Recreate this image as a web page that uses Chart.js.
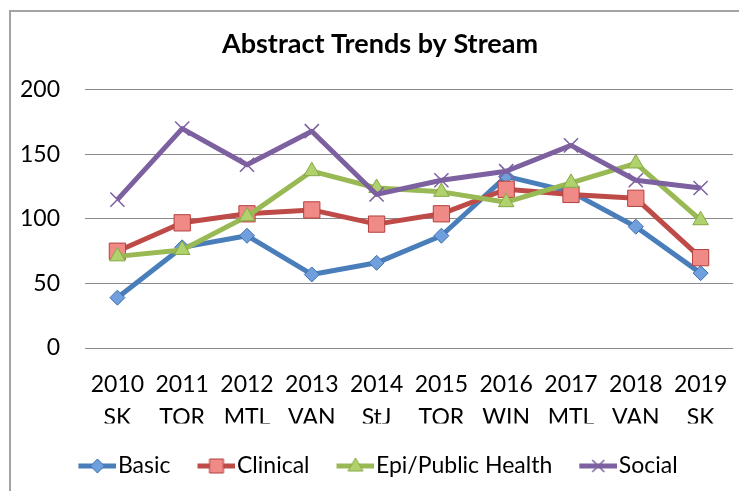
<!DOCTYPE html>
<html><head><meta charset="utf-8">
<script src="https://cdn.jsdelivr.net/npm/chart.js@4.4.0/dist/chart.umd.min.js"></script>
<style>
html,body{margin:0;padding:0;overflow:hidden;background:#fff;width:739px;height:491px;}
#wrap{position:absolute;left:0;top:0;width:760px;height:491px;}
#frame{position:absolute;left:9px;top:10px;width:800px;height:600px;border-left:2px solid #a3a3a3;border-top:2px solid #a3a3a3;pointer-events:none;}
</style></head><body>
<div id="wrap"><canvas id="c" width="760" height="491"></canvas></div>
<div id="frame"></div>
<script>
const categories = [['2010','SK'],['2011','TOR'],['2012','MTL'],['2013','VAN'],['2014','StJ'],['2015','TOR'],['2016','WIN'],['2017','MTL'],['2018','VAN'],['2019','SK']];
const seriesNames = ['Basic','Clinical','Epi/Public Health','Social'];
const basic    = [39, 78, 87, 57, 66, 87, 133, 121, 94, 58];
const clinical = [75, 97, 104, 107, 96, 104, 123, 119, 116, 70];
const epi      = [71, 76, 102, 137, 124, 121, 113, 128, 143, 99];
const social   = [115, 170, 142, 168, 119, 130, 137, 157, 130, 124];
const yTicks = [0, 50, 100, 150, 200];

const FONT = 'Lato, "Open Sans", sans-serif';
const styles = [
  {line:'#4a7ebb', fill:'#6f9fdc', border:'#3d6fad', shape:'rectRot', r:7.5},
  {line:'#be4b48', fill:'#ef8a87', border:'#b3413e', shape:'rect', r:11.5},
  {line:'#98b954', fill:'#b0d26c', border:'#86a746', shape:'triangle', r:9},
  {line:'#7d60a0', fill:'#7d60a0', border:'#7d60a0', shape:'crossRot', r:10}
];

function makeIcon(s){
  const c = document.createElement('canvas');
  c.width = 44; c.height = 20;
  const g = c.getContext('2d');
  g.strokeStyle = s.line; g.lineWidth = 5;
  g.beginPath(); g.moveTo(6,10); g.lineTo(44,10); g.stroke();
  const x = 25, y = 10;
  g.fillStyle = s.fill; g.strokeStyle = s.border; g.lineWidth = 1;
  g.beginPath();
  if (s.shape === 'rectRot') { g.moveTo(x-7,y); g.lineTo(x,y-7); g.lineTo(x+7,y); g.lineTo(x,y+7); g.closePath(); g.fill(); g.stroke(); }
  else if (s.shape === 'rect') { g.rect(x-7,y-7,14,14); g.fill(); g.stroke(); }
  else if (s.shape === 'triangle') { g.moveTo(x,y-8); g.lineTo(x+7.5,y+5); g.lineTo(x-7.5,y+5); g.closePath(); g.fill(); g.stroke(); }
  else { g.lineWidth = 1.5; g.moveTo(x-6,y-6); g.lineTo(x+6,y+6); g.moveTo(x+6,y-6); g.lineTo(x-6,y+6); g.stroke(); }
  return c;
}
const icons = styles.map(makeIcon);

const values = [basic, clinical, epi, social];
const datasets = values.map((v, i) => ({
  label: seriesNames[i],
  data: v,
  borderColor: styles[i].line,
  borderWidth: 5,
  borderJoinStyle: 'round',
  tension: 0,
  fill: false,
  pointStyle: styles[i].shape,
  pointRadius: styles[i].r,
  pointHoverRadius: styles[i].r,
  pointBackgroundColor: styles[i].fill,
  pointBorderColor: styles[i].border,
  pointBorderWidth: i === 3 ? 1.5 : 1,
  order: 4 - i
}));

new Chart(document.getElementById('c'), {
  type: 'line',
  data: { labels: categories, datasets },
  options: {
    responsive: false,
    animation: false,
    devicePixelRatio: 1,
    layout: { padding: { left: 0, right: 0, top: 0, bottom: 3.5 } },
    plugins: {
      tooltip: { enabled: false },
      title: {
        display: true, text: 'Abstract Trends by Stream', color: '#000',
        font: { family: FONT, size: 27, weight: 'bold' },
        padding: { top: 28.5, bottom: 29 }
      },
      legend: {
        position: 'bottom',
        labels: {
          color: '#000', font: { family: FONT, size: 23 },
          usePointStyle: true, pointStyleWidth: 24, padding: 31,
          sort: (a, b) => a.datasetIndex - b.datasetIndex,
          generateLabels: (chart) => {
            const items = Chart.defaults.plugins.legend.labels.generateLabels(chart);
            items.forEach(it => { it.pointStyle = icons[it.datasetIndex]; });
            return items;
          }
        }
      }
    },
    scales: {
      x: {
        offset: true,
        grid: { display: false, drawTicks: false, offset: true },
        border: { display: false },
        ticks: { color: '#000', font: { family: FONT, size: 23, lineHeight: 1.43 }, padding: 20.5, maxRotation: 0, autoSkip: false },
        afterFit: (s) => { s.height = 75.5; }
      },
      y: {
        min: yTicks[0], max: yTicks[yTicks.length - 1],
        grid: { color: '#8a8a8a', lineWidth: 1, drawTicks: false },
        border: { display: false },
        afterBuildTicks: (s) => { s.ticks = yTicks.map(v => ({ value: v })); },
        ticks: { color: '#000', font: { family: FONT, size: 23 }, padding: 25 },
        afterFit: (s) => { s.width = 85; }
      },
      yR: {
        position: 'right', display: true,
        grid: { display: false, drawTicks: false },
        border: { display: false },
        ticks: { display: false },
        afterFit: (s) => { s.width = 27; }
      }
    }
  }
});
</script>
</body></html>
